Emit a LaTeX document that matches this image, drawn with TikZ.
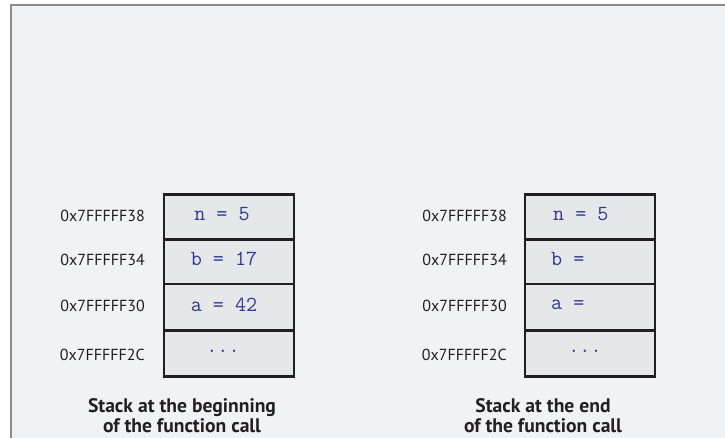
\documentclass[tikz,border=0pt]{standalone}
\usepackage{fontspec}
\setmainfont{PT Sans}
\definecolor{framegray}{HTML}{8C8C8C}
\definecolor{panel}{HTML}{F1F2F4}
\definecolor{cellfill}{HTML}{E6E7E8}
\definecolor{cellline}{HTML}{231F20}
\definecolor{codeblue}{HTML}{2E3A93}
\definecolor{txt}{HTML}{231F20}
\begin{document}
\begin{tikzpicture}[x=1pt,y=-1pt,
  cell/.style={draw=cellline,line width=2.6pt,fill=cellfill,minimum width=130pt,inner sep=0pt,anchor=north west},
  code/.style={font=\fontsize{21.5}{22}\selectfont\ttfamily,text=codeblue,inner sep=0pt},
  addr/.style={font=\fontsize{16}{18}\selectfont,text=txt,anchor=east,inner sep=0pt},
  caption/.style={font=\fontsize{19.6}{20.5}\selectfont\bfseries,text=txt,align=center,inner sep=0pt}]
\useasboundingbox (0,0) rectangle (725,438);
\fill[white] (0,0) rectangle (725,438);
\fill[panel] (11,5) rectangle (725,438);
\draw[framegray,line width=2pt] (11,440) -- (11,5) -- (727,5);
% left stack
\node[cell,minimum height=44.5pt] (l1) at (162.5,193.5) {};
\node[cell,minimum height=44.5pt] (l2) at (162.5,238) {};
\node[cell,minimum height=46.5pt] (l3) at (162.5,282.5) {};
\node[cell,minimum height=46pt] (l4) at (162.5,329) {};
\node[code] (lt1) at (222,214) {n = 5};
\node[code] (lt2) at (224,259) {b = 17};
\node[code] (lt3) at (224,305) {a = 42};
\node[code] (lt4) at (223,351) {...};
\node[addr] (la1) at (145,216) {0x7FFFFF38};
\node[addr] (la2) at (145,260) {0x7FFFFF34};
\node[addr] (la3) at (145,306) {0x7FFFFF30};
\node[addr] (la4) at (145,355) {0x7FFFFF2C};
\node[caption] (lc) at (182,415.5) {Stack at the beginning\\of the function call};
% right stack
\node[cell,minimum height=44.5pt] (r1) at (523.5,193.5) {};
\node[cell,minimum height=44.5pt] (r2) at (523.5,238) {};
\node[cell,minimum height=46.5pt] (r3) at (523.5,282.5) {};
\node[cell,minimum height=46pt] (r4) at (523.5,329) {};
\node[code,anchor=west] (rt1) at (553,214) {n = 5};
\node[code,anchor=west] (rt2) at (551,259) {b =};
\node[code,anchor=west] (rt3) at (551,305) {a =};
\node[code] (rt4) at (585,351) {...};
\node[addr] (ra1) at (507,216) {0x7FFFFF38};
\node[addr] (ra2) at (507,260) {0x7FFFFF34};
\node[addr] (ra3) at (507,306) {0x7FFFFF30};
\node[addr] (ra4) at (507,355) {0x7FFFFF2C};
\node[caption] (rc) at (543,415.5) {Stack at the end\\of the function call};
\end{tikzpicture}
\end{document}
